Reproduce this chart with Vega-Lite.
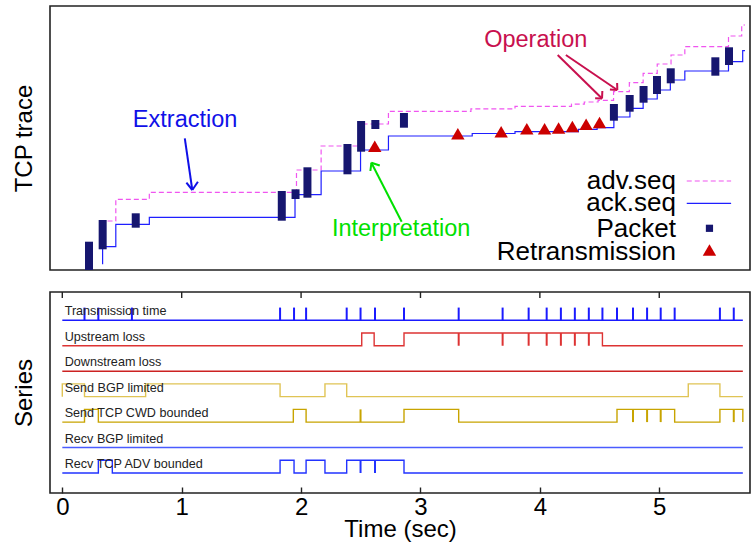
{
  "$schema": "https://vega.github.io/schema/vega-lite/v6.json",
  "padding": {"left": 11, "top": 5, "right": 0, "bottom": 0},
  "spacing": 19,
  "resolve": {"scale": {"color": "independent"}},
  "config": {
    "font": "Liberation Sans",
    "view": {"stroke": "#222", "strokeWidth": 1.6},
    "axis": {"grid": false, "domain": false, "titleFontWeight": "normal", "titleColor": "#000", "labelColor": "#000", "titleFont": "Liberation Sans", "labelFont": "Liberation Sans"}
  },
  "datasets": {
    "adv": [
      {"t": 0.3434, "seq": 49}, {"t": 0.4137, "seq": 70.7}, {"t": 0.6985, "seq": 77.7}, {"t": 1.9489, "seq": 100},
      {"t": 2.1583, "seq": 124}, {"t": 2.5101, "seq": 146}, {"t": 2.7303, "seq": 158.7}, {"t": 3.4313, "seq": 161.2},
      {"t": 3.8057, "seq": 163.7}, {"t": 4.2856, "seq": 165.8}, {"t": 4.3945, "seq": 168}, {"t": 4.5117, "seq": 169.7},
      {"t": 4.6432, "seq": 178.3}, {"t": 4.7772, "seq": 187.3}, {"t": 4.8945, "seq": 196.7}, {"t": 5.0142, "seq": 206},
      {"t": 5.1315, "seq": 215}, {"t": 5.2487, "seq": 223.3}, {"t": 5.6198, "seq": 234}, {"t": 5.732, "seq": 245}, {"t": 5.76, "seq": 245}
    ],
    "ack": [
      {"t": 0.3015, "seq": 5.7}, {"t": 0.3015, "seq": 23.3}, {"t": 0.4137, "seq": 45.7}, {"t": 0.6985, "seq": 52.7},
      {"t": 1.9364, "seq": 75.3}, {"t": 2.1583, "seq": 99}, {"t": 2.4933, "seq": 120}, {"t": 2.7303, "seq": 134},
      {"t": 3.4422, "seq": 136.5}, {"t": 3.8057, "seq": 138.3}, {"t": 4.3442, "seq": 140.7}, {"t": 4.5034, "seq": 142.3},
      {"t": 4.6457, "seq": 153}, {"t": 4.7822, "seq": 161.7}, {"t": 4.8945, "seq": 171}, {"t": 5.0142, "seq": 180},
      {"t": 5.1256, "seq": 190}, {"t": 5.2487, "seq": 199}, {"t": 5.6198, "seq": 208.3}, {"t": 5.7404, "seq": 219.3}, {"t": 5.76, "seq": 219.3}
    ],
    "packets": [
      {"t": 0.186, "lo": 0, "hi": 28.3}, {"t": 0.302, "lo": 20.7, "hi": 50}, {"t": 0.583, "lo": 42.3, "hi": 56.7},
      {"t": 1.824, "lo": 49.3, "hi": 79}, {"t": 1.941, "lo": 71, "hi": 80.7}, {"t": 2.042, "lo": 72.3, "hi": 102.7},
      {"t": 2.382, "lo": 95.7, "hi": 126}, {"t": 2.498, "lo": 118.3, "hi": 149}, {"t": 2.619, "lo": 141, "hi": 150},
      {"t": 2.862, "lo": 142.3, "hi": 157}, {"t": 4.646, "lo": 149.3, "hi": 166}, {"t": 4.78, "lo": 158.3, "hi": 175},
      {"t": 4.898, "lo": 167.3, "hi": 184}, {"t": 5.012, "lo": 176, "hi": 194}, {"t": 5.129, "lo": 186.7, "hi": 201.7},
      {"t": 5.508, "lo": 194.3, "hi": 212.7}, {"t": 5.624, "lo": 205, "hi": 222.7}
    ],
    "retrans": [
      {"t": 2.614, "seq": 123.8}, {"t": 3.32, "seq": 136.2}, {"t": 3.688, "seq": 138.3}, {"t": 3.906, "seq": 141.2},
      {"t": 4.057, "seq": 141.2}, {"t": 4.176, "seq": 142}, {"t": 4.293, "seq": 143.5}, {"t": 4.41, "seq": 145.7}, {"t": 4.524, "seq": 147.5}
    ],
    "arrows": [
      {"who": "Extraction", "t": 1.0, "y": 131.7, "t2": 1.0637, "y2": 80},
      {"who": "Extraction", "t": 1.0134, "y": 87.3, "t2": 1.0637, "y2": 80},
      {"who": "Extraction", "t": 1.1114, "y": 88.3, "t2": 1.0637, "y2": 80},
      {"who": "Interpretation", "t": 2.8426, "y": 48.3, "t2": 2.5854, "y2": 107.3},
      {"who": "Interpretation", "t": 2.6566, "y": 104.5, "t2": 2.5854, "y2": 107.3},
      {"who": "Interpretation", "t": 2.5771, "y": 99, "t2": 2.5854, "y2": 107.3},
      {"who": "Operation", "t": 4.1683, "y": 215, "t2": 4.5452, "y2": 171.5},
      {"who": "Operation", "t": 4.5477, "y": 179, "t2": 4.5452, "y2": 171.5},
      {"who": "Operation", "t": 4.4866, "y": 171.7, "t2": 4.5452, "y2": 171.5},
      {"who": "Operation", "t": 4.2379, "y": 215, "t2": 4.675, "y2": 180},
      {"who": "Operation", "t": 4.6734, "y": 187, "t2": 4.675, "y2": 180},
      {"who": "Operation", "t": 4.6122, "y": 180.5, "t2": 4.675, "y2": 180}
    ],
    "notes": [
      {"who": "Extraction", "t": 1.0025, "y": 143.3},
      {"who": "Interpretation", "t": 2.838, "y": 34},
      {"who": "Operation", "t": 3.982, "y": 223.3}
    ],
    "legendText": [
      {"label": "adv.seq", "t": 5.173, "y": 81.5},
      {"label": "ack.seq", "t": 5.173, "y": 59.5},
      {"label": "Packet", "t": 5.173, "y": 33.5},
      {"label": "Retransmission", "t": 5.173, "y": 10.5}
    ],
    "series": [
      {"name": "Transmission time", "base": 7}, {"name": "Upstream loss", "base": 6}, {"name": "Downstream loss", "base": 5},
      {"name": "Send BGP limited", "base": 4}, {"name": "Send TCP CWD bounded", "base": 3}, {"name": "Recv BGP limited", "base": 2},
      {"name": "Recv TCP ADV bounded", "base": 1}
    ],
    "topTicks": [{"t": 0}, {"t": 1}, {"t": 2}, {"t": 3}, {"t": 4}, {"t": 5}],
    "steps": [
      {"name": "Transmission time", "t": 0, "v": 7}, {"name": "Transmission time", "t": 5.7, "v": 7},
      {"name": "Upstream loss", "t": 0, "v": 6}, {"name": "Upstream loss", "t": 2.508, "v": 6.5}, {"name": "Upstream loss", "t": 2.612, "v": 6},
      {"name": "Upstream loss", "t": 2.862, "v": 6.5}, {"name": "Upstream loss", "t": 4.524, "v": 6}, {"name": "Upstream loss", "t": 5.7, "v": 6},
      {"name": "Downstream loss", "t": 0, "v": 5}, {"name": "Downstream loss", "t": 5.7, "v": 5},
      {"name": "Send BGP limited", "t": 0, "v": 4}, {"name": "Send BGP limited", "t": 0, "v": 4.5}, {"name": "Send BGP limited", "t": 0.186, "v": 4},
      {"name": "Send BGP limited", "t": 0.698, "v": 4.5}, {"name": "Send BGP limited", "t": 1.824, "v": 4}, {"name": "Send BGP limited", "t": 2.2, "v": 4.5},
      {"name": "Send BGP limited", "t": 2.382, "v": 4}, {"name": "Send BGP limited", "t": 5.243, "v": 4.5}, {"name": "Send BGP limited", "t": 5.508, "v": 4},
      {"name": "Send BGP limited", "t": 5.7, "v": 4},
      {"name": "Send TCP CWD bounded", "t": 0, "v": 3}, {"name": "Send TCP CWD bounded", "t": 0.186, "v": 3.5}, {"name": "Send TCP CWD bounded", "t": 0.302, "v": 3},
      {"name": "Send TCP CWD bounded", "t": 1.935, "v": 3.5}, {"name": "Send TCP CWD bounded", "t": 2.042, "v": 3}, {"name": "Send TCP CWD bounded", "t": 2.862, "v": 3.5},
      {"name": "Send TCP CWD bounded", "t": 3.32, "v": 3}, {"name": "Send TCP CWD bounded", "t": 4.646, "v": 3.5}, {"name": "Send TCP CWD bounded", "t": 5.129, "v": 3},
      {"name": "Send TCP CWD bounded", "t": 5.508, "v": 3.5}, {"name": "Send TCP CWD bounded", "t": 5.7, "v": 3},
      {"name": "Recv BGP limited", "t": 0, "v": 2}, {"name": "Recv BGP limited", "t": 5.7, "v": 2},
      {"name": "Recv TCP ADV bounded", "t": 0, "v": 1}, {"name": "Recv TCP ADV bounded", "t": 0.302, "v": 1.5}, {"name": "Recv TCP ADV bounded", "t": 0.419, "v": 1},
      {"name": "Recv TCP ADV bounded", "t": 1.824, "v": 1.5}, {"name": "Recv TCP ADV bounded", "t": 1.941, "v": 1}, {"name": "Recv TCP ADV bounded", "t": 2.042, "v": 1.5},
      {"name": "Recv TCP ADV bounded", "t": 2.2, "v": 1}, {"name": "Recv TCP ADV bounded", "t": 2.382, "v": 1.5}, {"name": "Recv TCP ADV bounded", "t": 2.862, "v": 1},
      {"name": "Recv TCP ADV bounded", "t": 5.7, "v": 1}
    ],
    "spikes": [
      {"name": "Transmission time", "t": 0.186, "lo": 7, "hi": 7.5}, {"name": "Transmission time", "t": 0.302, "lo": 7, "hi": 7.5},
      {"name": "Transmission time", "t": 0.583, "lo": 7, "hi": 7.5}, {"name": "Transmission time", "t": 1.824, "lo": 7, "hi": 7.5},
      {"name": "Transmission time", "t": 1.941, "lo": 7, "hi": 7.5}, {"name": "Transmission time", "t": 2.042, "lo": 7, "hi": 7.5},
      {"name": "Transmission time", "t": 2.382, "lo": 7, "hi": 7.5}, {"name": "Transmission time", "t": 2.498, "lo": 7, "hi": 7.5},
      {"name": "Transmission time", "t": 2.619, "lo": 7, "hi": 7.5}, {"name": "Transmission time", "t": 2.862, "lo": 7, "hi": 7.5},
      {"name": "Transmission time", "t": 3.32, "lo": 7, "hi": 7.5}, {"name": "Transmission time", "t": 3.688, "lo": 7, "hi": 7.5},
      {"name": "Transmission time", "t": 3.906, "lo": 7, "hi": 7.5}, {"name": "Transmission time", "t": 4.057, "lo": 7, "hi": 7.5},
      {"name": "Transmission time", "t": 4.176, "lo": 7, "hi": 7.5}, {"name": "Transmission time", "t": 4.293, "lo": 7, "hi": 7.5},
      {"name": "Transmission time", "t": 4.41, "lo": 7, "hi": 7.5}, {"name": "Transmission time", "t": 4.524, "lo": 7, "hi": 7.5},
      {"name": "Transmission time", "t": 4.646, "lo": 7, "hi": 7.5}, {"name": "Transmission time", "t": 4.78, "lo": 7, "hi": 7.5},
      {"name": "Transmission time", "t": 4.898, "lo": 7, "hi": 7.5}, {"name": "Transmission time", "t": 5.012, "lo": 7, "hi": 7.5},
      {"name": "Transmission time", "t": 5.129, "lo": 7, "hi": 7.5}, {"name": "Transmission time", "t": 5.508, "lo": 7, "hi": 7.5},
      {"name": "Transmission time", "t": 5.624, "lo": 7, "hi": 7.5},
      {"name": "Upstream loss", "t": 3.32, "lo": 6, "hi": 6.5}, {"name": "Upstream loss", "t": 3.688, "lo": 6, "hi": 6.5},
      {"name": "Upstream loss", "t": 3.906, "lo": 6, "hi": 6.5}, {"name": "Upstream loss", "t": 4.057, "lo": 6, "hi": 6.5},
      {"name": "Upstream loss", "t": 4.176, "lo": 6, "hi": 6.5}, {"name": "Upstream loss", "t": 4.293, "lo": 6, "hi": 6.5},
      {"name": "Upstream loss", "t": 4.41, "lo": 6, "hi": 6.5},
      {"name": "Send TCP CWD bounded", "t": 2.498, "lo": 3, "hi": 3.5}, {"name": "Send TCP CWD bounded", "t": 4.78, "lo": 3, "hi": 3.5},
      {"name": "Send TCP CWD bounded", "t": 4.898, "lo": 3, "hi": 3.5}, {"name": "Send TCP CWD bounded", "t": 5.012, "lo": 3, "hi": 3.5},
      {"name": "Send TCP CWD bounded", "t": 5.624, "lo": 3, "hi": 3.5},
      {"name": "Recv TCP ADV bounded", "t": 2.498, "lo": 1, "hi": 1.5}, {"name": "Recv TCP ADV bounded", "t": 2.619, "lo": 1, "hi": 1.5}
    ]
  },
  "vconcat": [
    {
      "width": 700,
      "height": 264,
      "layer": [
        {
          "data": {"name": "adv"},
          "mark": {"type": "line", "interpolate": "step-after", "color": "#f055f0", "strokeWidth": 1.2, "strokeDash": [5, 3], "clip": true},
          "encoding": {
            "x": {"field": "t", "type": "quantitative", "scale": {"domain": [-0.103, 5.76], "nice": false, "zero": false}, "axis": null},
            "y": {"field": "seq", "type": "quantitative", "scale": {"domain": [0, 264], "nice": false, "zero": false},
                  "axis": {"title": "TCP trace", "labels": false, "ticks": false, "titleFontSize": 24, "titlePadding": 14}},
            "order": {"value": null}
          }
        },
        {
          "data": {"name": "ack"},
          "mark": {"type": "line", "interpolate": "step-after", "color": "#1f1fff", "strokeWidth": 1.2, "clip": true},
          "encoding": {
            "x": {"field": "t", "type": "quantitative"},
            "y": {"field": "seq", "type": "quantitative"},
            "order": {"value": null}
          }
        },
        {
          "data": {"name": "arrows"},
          "mark": {"type": "rule", "strokeWidth": 2},
          "encoding": {
            "x": {"field": "t", "type": "quantitative"},
            "y": {"field": "y", "type": "quantitative"},
            "x2": {"field": "t2"},
            "y2": {"field": "y2"},
            "color": {"field": "who", "type": "nominal", "scale": {"domain": ["Extraction", "Interpretation", "Operation"], "range": ["#1010e8", "#00e000", "#c8104e"]}, "legend": null}
          }
        },
        {
          "data": {"name": "packets"},
          "mark": {"type": "bar", "width": 8, "color": "#16166f", "clip": true},
          "encoding": {
            "x": {"field": "t", "type": "quantitative"},
            "y": {"field": "lo", "type": "quantitative"},
            "y2": {"field": "hi"}
          }
        },
        {
          "data": {"name": "retrans"},
          "mark": {"type": "point", "shape": "triangle-up", "filled": true, "size": 180, "color": "#cc0000", "opacity": 1},
          "encoding": {
            "x": {"field": "t", "type": "quantitative"},
            "y": {"field": "seq", "type": "quantitative"}
          }
        },
        {
          "data": {"name": "notes"},
          "mark": {"type": "text", "fontSize": 23.5, "align": "center", "baseline": "alphabetic"},
          "encoding": {
            "x": {"field": "t", "type": "quantitative"},
            "y": {"field": "y", "type": "quantitative"},
            "text": {"field": "who"},
            "color": {"field": "who", "type": "nominal", "legend": null}
          }
        },
        {
          "data": {"name": "legendText"},
          "mark": {"type": "text", "fontSize": 26, "align": "right", "baseline": "alphabetic", "color": "#000"},
          "encoding": {
            "x": {"field": "t", "type": "quantitative"},
            "y": {"field": "y", "type": "quantitative"},
            "text": {"field": "label"}
          }
        },
        {
          "data": {"values": [{"label": "adv.seq", "t": 5.265, "t2": 5.642, "y": 89}]},
          "mark": {"type": "rule", "color": "#f055f0", "strokeWidth": 1.2, "strokeDash": [5, 3]},
          "encoding": {
            "x": {"field": "t", "type": "quantitative"},
            "x2": {"field": "t2"},
            "y": {"field": "y", "type": "quantitative"}
          }
        },
        {
          "data": {"values": [{"label": "ack.seq", "t": 5.265, "t2": 5.642, "y": 66.7}]},
          "mark": {"type": "rule", "color": "#1f1fff", "strokeWidth": 1.2},
          "encoding": {
            "x": {"field": "t", "type": "quantitative"},
            "x2": {"field": "t2"},
            "y": {"field": "y", "type": "quantitative"}
          }
        },
        {
          "data": {"values": [{"label": "Packet", "t": 5.458, "y": 41.7}]},
          "mark": {"type": "square", "size": 52, "color": "#16166f", "opacity": 1},
          "encoding": {
            "x": {"field": "t", "type": "quantitative"},
            "y": {"field": "y", "type": "quantitative"}
          }
        },
        {
          "data": {"values": [{"label": "Retransmission", "t": 5.458, "y": 20}]},
          "mark": {"type": "point", "shape": "triangle-up", "filled": true, "size": 180, "color": "#cc0000", "opacity": 1},
          "encoding": {
            "x": {"field": "t", "type": "quantitative"},
            "y": {"field": "y", "type": "quantitative"}
          }
        }
      ]
    },
    {
      "width": 700,
      "height": 201,
      "layer": [
        {
          "data": {"name": "steps"},
          "mark": {"type": "line", "interpolate": "step-after", "strokeWidth": 1.4},
          "encoding": {
            "x": {"field": "t", "type": "quantitative", "scale": {"domain": [-0.103, 5.76], "nice": false, "zero": false},
                  "axis": {"orient": "bottom", "values": [0, 1, 2, 3, 4, 5], "format": "d", "title": "Time (sec)", "tickSize": -6, "tickColor": "#222", "tickWidth": 1.4,
                           "labelFontSize": 24, "titleFontSize": 24, "labelPadding": 8, "titlePadding": -2}},
            "y": {"field": "v", "type": "quantitative", "scale": {"domain": [0.214, 8.112], "nice": false, "zero": false},
                  "axis": {"title": "Series", "labels": false, "ticks": false, "titleFontSize": 24, "titlePadding": 14}},
            "color": {"field": "name", "type": "nominal",
                      "scale": {"domain": ["Transmission time", "Upstream loss", "Downstream loss", "Send BGP limited", "Send TCP CWD bounded", "Recv BGP limited", "Recv TCP ADV bounded"],
                                "range": ["#1a1aff", "#dd3333", "#cc2222", "#e0c455", "#c8a400", "#4a5cff", "#2233ff"]}, "legend": null},
            "order": {"value": null}
          }
        },
        {
          "data": {"name": "spikes"},
          "mark": {"type": "rule", "strokeWidth": 2},
          "encoding": {
            "x": {"field": "t", "type": "quantitative"},
            "y": {"field": "lo", "type": "quantitative"},
            "y2": {"field": "hi"},
            "color": {"field": "name", "type": "nominal", "legend": null}
          }
        },
        {
          "data": {"name": "topTicks"},
          "mark": {"type": "rule", "color": "#222", "strokeWidth": 1.4},
          "encoding": {
            "x": {"field": "t", "type": "quantitative"},
            "y": {"datum": 8.112, "type": "quantitative"},
            "y2": {"datum": 7.876}
          }
        },
        {
          "data": {"name": "series"},
          "mark": {"type": "text", "fontSize": 12.6, "align": "left", "baseline": "alphabetic", "dy": -5, "color": "#222"},
          "encoding": {
            "x": {"datum": 0.02, "type": "quantitative"},
            "y": {"field": "base", "type": "quantitative"},
            "text": {"field": "name"}
          }
        }
      ]
    }
  ]
}
